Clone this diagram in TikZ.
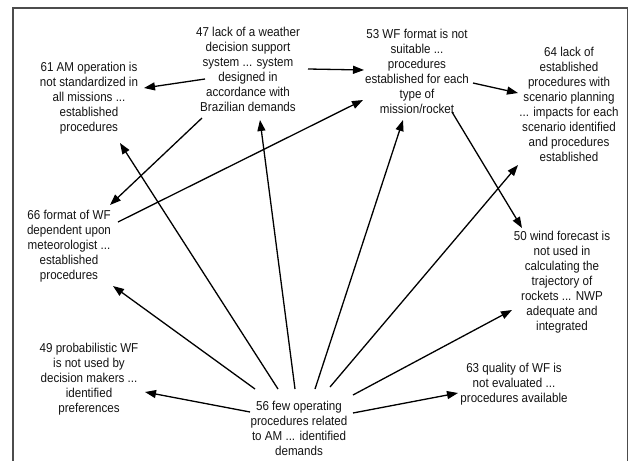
\documentclass[tikz,border=0pt]{standalone}
\usepackage{fontspec}
\setmainfont[FakeStretch=0.9]{Liberation Sans}
\usetikzlibrary{arrows.meta}
\begin{document}
\begin{tikzpicture}[x=1pt,y=-1pt,
  txt/.style={align=center,inner sep=0pt,font=\fontsize{12.9}{15}\selectfont,text=black!92},
  arr/.style={line width=1.3pt,-{Triangle[length=11pt,width=8pt]}}]
\useasboundingbox (0,0) rectangle (630,461);
\fill[white] (0,0) rectangle (630,461);
\draw[line width=1.5pt,black!70] (13,461) -- (13,8) -- (627.5,8) -- (627.5,461);
\node[txt] (n47) at (248,69) {47 lack of a weather\\decision support\\system ... system\\designed in\\accordance with\\Brazilian demands};
\node[txt] (n61) at (89,98) {61 AM operation is\\not standardized in\\all missions ...\\established\\procedures};
\node[txt] (n53) at (417,71) {53 WF format is not\\suitable ...\\procedures\\established for each\\type of\\mission/rocket};
\node[txt] (n64) at (569,104) {64 lack of\\established\\procedures with\\scenario planning\\... impacts for each\\scenario identified\\and procedures\\established};
\node[txt] (n66) at (69,246) {66 format of WF\\dependent upon\\meteorologist ...\\established\\procedures};
\node[txt] (n50) at (562,282) {50 wind forecast is\\not used in\\calculating the\\trajectory of\\rockets ... NWP\\adequate and\\integrated};
\node[txt] (n49) at (89,379) {49 probabilistic WF\\is not used by\\decision makers ...\\identified\\preferences};
\node[txt] (n63) at (514,384) {63 quality of WF is\\not evaluated ...\\procedures available};
\node[txt] (n56) at (299,428) {56 few operating\\procedures related\\to AM ... identified\\demands};
% arrows
\draw[arr] ([shift={(-43,10)}]n47.center) -- ([shift={(55,-10)}]n61.center);
\draw[arr] ([shift={(-46,49)}]n47.center) -- ([shift={(41,-41)}]n66.center);
\draw[arr] ([shift={(60,0)}]n47.center) -- ([shift={(-53,-1)}]n53.center);
\draw[arr] ([shift={(49,-24)}]n66.center) -- ([shift={(-54,29)}]n53.center);
\draw[arr] ([shift={(56,12)}]n53.center) -- ([shift={(-51,-11)}]n64.center);
\draw[arr] ([shift={(35,41)}]n53.center) -- ([shift={(-40,-54)}]n50.center);
\draw[arr] ([shift={(-21,-39)}]n56.center) -- ([shift={(31,45)}]n61.center);
\draw[arr] ([shift={(-4,-39)}]n56.center) -- ([shift={(12,51)}]n47.center);
\draw[arr] ([shift={(-44,-39)}]n56.center) -- ([shift={(44,40)}]n66.center);
\draw[arr] ([shift={(-49,-16)}]n56.center) -- ([shift={(56,13)}]n49.center);
\draw[arr] ([shift={(16,-39)}]n56.center) -- ([shift={(-14,49)}]n53.center);
\draw[arr] ([shift={(31,-41)}]n56.center) -- ([shift={(-51,61)}]n64.center);
\draw[arr] ([shift={(54,-33)}]n56.center) -- ([shift={(-50,28)}]n50.center);
\draw[arr] ([shift={(54,-15)}]n56.center) -- ([shift={(-56,9)}]n63.center);
\end{tikzpicture}
\end{document}
